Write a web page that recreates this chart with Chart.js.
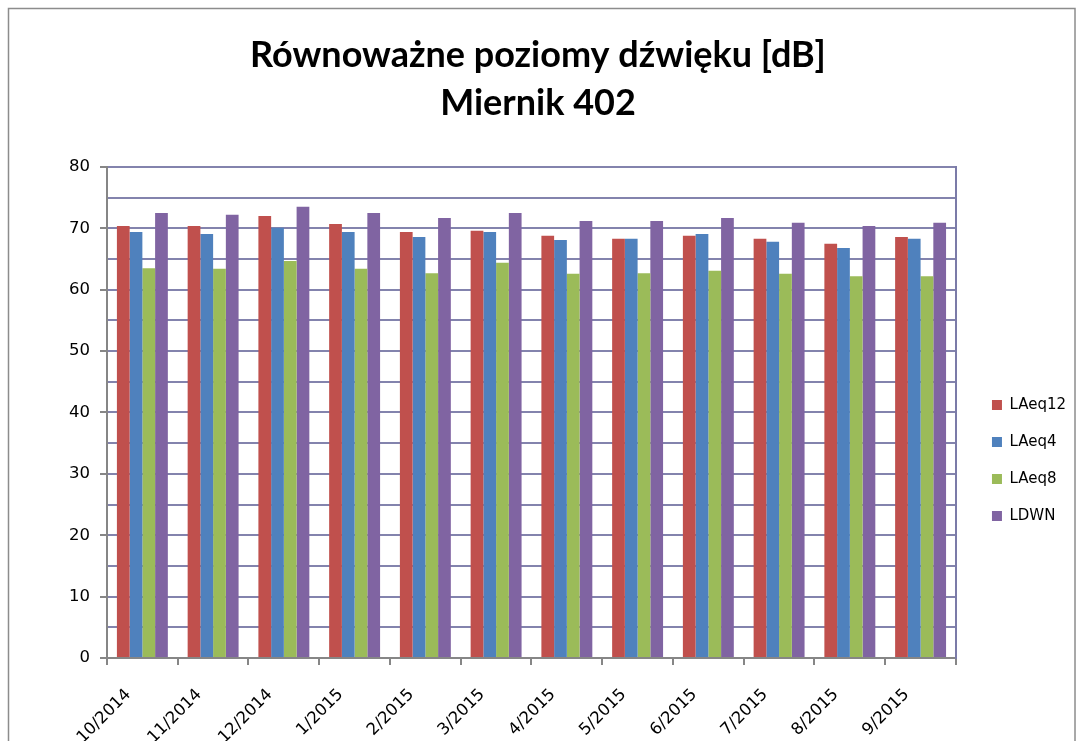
<!DOCTYPE html>
<html>
<head>
<meta charset="utf-8">
<script src="https://cdn.jsdelivr.net/npm/chart.js@4"></script>
<style>
  html, body { margin: 0; padding: 0; background: #fff; }
  #wrap { width: 1076px; height: 741px; }
</style>
</head>
<body>
<div id="wrap"><canvas id="chart" width="1076" height="741"></canvas></div>
<script>
// dane
const months = ["10/2014", "11/2014", "12/2014", "1/2015", "2/2015", "3/2015",
                "4/2015", "5/2015", "6/2015", "7/2015", "8/2015", "9/2015"];
const laeq12 = [70.4, 70.4, 72.0, 70.7, 69.4, 69.6, 68.8, 68.3, 68.8, 68.3, 67.5, 68.6];
const laeq4  = [69.4, 69.1, 70.1, 69.4, 68.6, 69.4, 68.1, 68.3, 69.1, 67.8, 66.8, 68.3];
const laeq8  = [63.5, 63.4, 64.7, 63.4, 62.7, 64.4, 62.6, 62.7, 63.1, 62.6, 62.2, 62.2];
const ldwn   = [72.5, 72.2, 73.5, 72.5, 71.7, 72.5, 71.2, 71.2, 71.7, 70.9, 70.4, 70.9];
const yMin = 0, yMax = 80, yStep = 5;

const font = "'DejaVu Sans', Verdana, sans-serif";

// ramka wokół całego wykresu
const framePlugin = {
  id: "frame",
  beforeDraw(chart) {
    const ctx = chart.ctx;
    ctx.save();
    ctx.fillStyle = "#fff";
    ctx.fillRect(0, 0, chart.width, chart.height);
    ctx.strokeStyle = "#8c8c8c";
    ctx.lineWidth = 1.5;
    ctx.strokeRect(8.5, 8.5, chart.width - 9.5, chart.height + 20);
    ctx.restore();
  }
};

function ds(label, data, color) {
  return { label: label, data: data, backgroundColor: color, borderWidth: 0 };
}

new Chart(document.getElementById("chart"), {
  type: "bar",
  data: {
    labels: months,
    datasets: [
      ds("LAeq12", laeq12, "#c0504d"),
      ds("LAeq4", laeq4, "#4f81bd"),
      ds("LAeq8", laeq8, "#9bbb59"),
      ds("LDWN", ldwn, "#8064a2"),
    ],
  },
  options: {
    responsive: false,
    animation: false,
    datasets: { bar: { categoryPercentage: 0.72, barPercentage: 1.0 } },
    layout: { padding: 0 },
    plugins: {
      title: {
        display: true,
        text: ["Równoważne poziomy dźwięku [dB]", "Miernik 402"],
        color: "#000",
        font: { family: "Lato, sans-serif", size: 36, weight: "bold", lineHeight: 1.333 },
        padding: { top: 31, bottom: 40 },
      },
      legend: {
        position: "right",
        fullSize: true,
        title: { display: true, text: "", padding: { top: 168, bottom: 0 }, font: { size: 10 } },
        labels: {
          boxWidth: 10,
          boxHeight: 10,
          padding: 22,
          color: "#000",
          font: { family: font, size: 15 },
        },
      },
      tooltip: { enabled: false },
    },
    scales: {
      x: {
        grid: {
          offset: true,
          drawOnChartArea: false,
          tickLength: 7,
          color: "#868686",
          lineWidth: 2,
        },
        border: { color: "#868686", width: 2 },
        ticks: {
          color: "#000",
          font: { family: font, size: 16.5 },
          minRotation: 45,
          maxRotation: 45,
          padding: 20,
          labelOffset: -14,
        },
        afterFit(scale) { scale.height = 83; },
      },
      y: {
        min: yMin,
        max: yMax,
        ticks: {
          stepSize: yStep,
          color: "#000",
          font: { family: font, size: 16.5 },
          padding: 10,
          callback: (v) => (v % 10 === 0 ? v : ""),
        },
        grid: {
          color: "#8383ad",
          lineWidth: 2,
          tickLength: 7,
          tickColor: (c) => (c.tick && c.tick.value % 10 === 0 ? "#868686" : "rgba(0,0,0,0)"),
        },
        border: { color: "#868686", width: 2 },
        afterFit(scale) { scale.width = 107; },
      },
      y2: {
        position: "right",
        min: yMin,
        max: yMax,
        ticks: { display: false },
        grid: { display: false, drawOnChartArea: false },
        border: { display: true, color: "#7b7ba8", width: 2 },
        afterFit(scale) { scale.width = 14; },
      },
    },
  },
  plugins: [framePlugin],
});
</script>
</body>
</html>
